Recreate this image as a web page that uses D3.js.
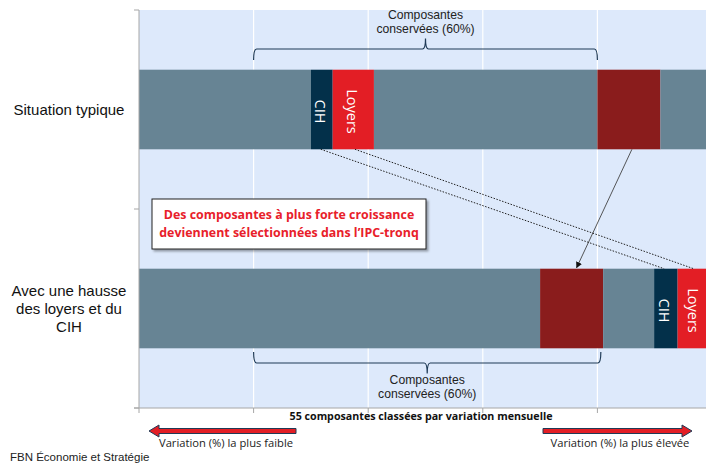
<!DOCTYPE html>
<html>
<head>
<meta charset="utf-8">
<script src="https://cdn.jsdelivr.net/npm/d3@7"></script>
<style>
  body { margin: 0; background: #fff; }
  svg { display: block; font-family: "Liberation Sans", Arial, sans-serif; }
</style>
</head>
<body>
<div id="chart"></div>
<script>
// Data: categories and segment widths (share of the 55 ranked components, in %)
const categories = ["Situation typique", "Avec une hausse des loyers et du CIH"];
const categoryLines = [["Situation typique"], ["Avec une hausse", "des loyers et du", "CIH"]];
const segmentKinds = [
  ["autre", "cih", "loyers", "autre", "comp", "autre"],
  ["autre", "comp", "autre", "cih", "loyers"]
];
const segmentValues = [
  [30, 3.8, 7.2, 39, 11, 9],
  [70, 11, 8.9, 4.1, 6]
];
const xTicks = [0, 20, 40, 60, 80, 100];
const keptRange = [[20, 80], [20, 80.6]];
const keptLabel = ["Composantes", "conservées (60%)"];
const axisTitle = "55 composantes classées par variation mensuelle";
const noteLines = ["Des composantes à plus forte croissance", "deviennent sélectionnées dans l’IPC-tronq"];
const lowLabel = "Variation (%) la plus faible";
const highLabel = "Variation (%) la plus élevée";
const source = "FBN Économie et Stratégie";

const colors = { autre: "#678494", cih: "#03304a", loyers: "#e31e25", comp: "#8a1c1c" };
const segLabels = { cih: "CIH", loyers: "Loyers" };

const W = 706, H = 464;
const svg = d3.select("#chart").append("svg").attr("width", W).attr("height", H);

const x = d3.scaleLinear().domain([0, 100]).range([139, 712]);
const y = d3.scaleBand().domain(categories).range([10, 408])
  .paddingInner(0.6).paddingOuter(0.3);

// plot background + grid
svg.append("rect").attr("x", x(0)).attr("y", 10).attr("width", W - x(0)).attr("height", 398)
  .attr("fill", "#dde9fb");
svg.selectAll(".grid").data(xTicks.slice(1)).enter().append("line")
  .attr("x1", d => x(d)).attr("x2", d => x(d)).attr("y1", 10).attr("y2", 408)
  .attr("stroke", "#fff").attr("stroke-width", 1.2);

// stacked bars
const stacks = categories.map((c, i) => {
  let acc = 0;
  return segmentValues[i].map((v, j) => {
    const s = { cat: c, kind: segmentKinds[i][j], x0: acc, x1: acc + v };
    acc += v;
    return s;
  });
});
const segs = stacks.flat();
svg.selectAll(".seg").data(segs).enter().append("rect")
  .attr("x", d => x(d.x0)).attr("width", d => x(d.x1) - x(d.x0))
  .attr("y", d => y(d.cat)).attr("height", y.bandwidth())
  .attr("fill", d => colors[d.kind]);

// rotated labels inside CIH / Loyers
svg.selectAll(".segLabel").data(segs.filter(d => segLabels[d.kind])).enter().append("text")
  .attr("transform", d => `translate(${(x(d.x0) + x(d.x1)) / 2 - 1},${y(d.cat) + y.bandwidth() / 2 + 2}) rotate(90)`)
  .attr("text-anchor", "middle").attr("dominant-baseline", "central")
  .attr("fill", "#fff").style("font-family", "'Open Sans', sans-serif").style("font-size", "14.5px")
  .text(d => segLabels[d.kind]);

// axes (Excel style: ticks on band boundaries)
const step = y.step();
const yBounds = [10, y(categories[1]) - step * y.paddingInner() / 2, 408];
svg.append("line").attr("x1", x(0)).attr("x2", x(0)).attr("y1", 10).attr("y2", 408)
  .attr("stroke", "#a6a6a6");
svg.selectAll(".ytick").data(yBounds).enter().append("line")
  .attr("x1", x(0) - 5).attr("x2", x(0)).attr("y1", d => d).attr("y2", d => d)
  .attr("stroke", "#a6a6a6");
svg.append("line").attr("x1", x(0) - 5).attr("x2", W).attr("y1", 408).attr("y2", 408)
  .attr("stroke", "#a6a6a6");
svg.selectAll(".xtick").data(xTicks.slice(0, 5)).enter().append("line")
  .attr("x1", d => x(d)).attr("x2", d => x(d)).attr("y1", 408).attr("y2", 413)
  .attr("stroke", "#a6a6a6");

// category labels
categories.forEach((c, i) => {
  const lines = categoryLines[i];
  const cy = y(c) + y.bandwidth() / 2;
  const t = svg.append("text").attr("x", 69).attr("text-anchor", "middle")
    .style("font-size", "15px").attr("fill", "#111");
  lines.forEach((l, k) => {
    t.append("tspan").attr("x", 69)
      .attr("y", cy + (k - (lines.length - 1) / 2) * 18 + 5).text(l);
  });
});

// brackets
function bracket(r, yb, dir, labelY) {
  const a = x(r[0]), b = x(r[1]), m = x((r[0] + r[1]) / 2);
  const e = 11 * dir, c = 3;
  const p = `M${a},${yb + e} Q${a},${yb} ${a + c},${yb} L${m - c},${yb} Q${m},${yb} ${m},${yb - c * dir * 3.5}` +
            ` Q${m},${yb} ${m + c},${yb} L${b - c},${yb} Q${b},${yb} ${b},${yb + e}`;
  svg.append("path").attr("d", p).attr("fill", "none").attr("stroke", "#1f3a56").attr("stroke-width", 1.2);
  keptLabel.forEach((l, k) => {
    svg.append("text").attr("x", m).attr("y", labelY + k * 14).attr("text-anchor", "middle")
      .style("font-size", "12.2px").attr("fill", "#222").text(l);
  });
}
bracket(keptRange[0], 49, 1, 19);
bracket(keptRange[1], 363, -1, 384);

// arrow markers
const defs = svg.append("defs");
defs.append("marker").attr("id", "tri").attr("viewBox", "0 0 10 10").attr("refX", 9).attr("refY", 5)
  .attr("markerWidth", 7).attr("markerHeight", 7).attr("orient", "auto")
  .append("path").attr("d", "M0,0 L10,5 L0,10 Z").attr("fill", "#111");
defs.append("filter").attr("id", "shadow").append("feDropShadow")
  .attr("dx", 2).attr("dy", 2).attr("stdDeviation", 1).attr("flood-color", "#000").attr("flood-opacity", 0.35);

// connectors between bars
const topStack = stacks[0], botStack = stacks[1];
const topB = y(categories[0]) + y.bandwidth(), botT = y(categories[1]);
const find = (s, k) => s.find(d => d.kind === k);
const mid = d => x((d.x0 + d.x1) / 2);
svg.append("line")
  .attr("x1", mid(find(topStack, "comp")) + 3).attr("y1", topB)
  .attr("x2", mid(find(botStack, "comp")) + 5).attr("y2", botT - 1)
  .attr("stroke", "#444").attr("stroke-width", 0.9).attr("marker-end", "url(#tri)");
["cih", "loyers"].forEach(k => {
  const a = find(topStack, k), b = find(botStack, k);
  svg.append("line")
    .attr("x1", k === "cih" ? mid(a) - 1 : x(a.x1) - 19).attr("y1", topB)
    .attr("x2", k === "cih" ? x(b.x0) + 10 : x(b.x0) + 16).attr("y2", botT)
    .attr("stroke", "#222").attr("stroke-width", 1).attr("stroke-dasharray", "1.5,1.5");
});

// note box
const note = svg.append("g");
note.append("rect").attr("x", 152).attr("y", 199).attr("width", 274).attr("height", 50)
  .attr("fill", "#fff").attr("stroke", "#222").attr("stroke-width", 1).attr("filter", "url(#shadow)");
noteLines.forEach((l, k) => {
  note.append("text").attr("x", 289).attr("y", 218.5 + k * 18).attr("text-anchor", "middle")
    .style("font-family", "'Open Sans', sans-serif").style("font-weight", "bold").style("font-size", "12.4px")
    .attr("fill", "#e8202a").text(l);
});

// axis title
svg.append("text").attr("x", 421).attr("y", 420).attr("text-anchor", "middle")
  .style("font-family", "'Open Sans', sans-serif").style("font-weight", "bold").style("font-size", "10.7px")
  .attr("fill", "#111").text(axisTitle);

// direction arrows
function bigArrow(x1, x2, yc) {
  const d = x2 > x1 ? 1 : -1, head = 10;
  const p = `M${x1},${yc - 2.5} L${x2 - d * head},${yc - 2.5} L${x2 - d * head},${yc - 6} L${x2},${yc}` +
            ` L${x2 - d * head},${yc + 6} L${x2 - d * head},${yc + 2.5} L${x1},${yc + 2.5} Z`;
  svg.append("path").attr("d", p).attr("fill", "#e31e25").attr("stroke", "#1f3a56").attr("stroke-width", 1);
}
bigArrow(296, 149, 431);
bigArrow(543, 692, 431);
svg.append("text").attr("x", 226).attr("y", 447).attr("text-anchor", "middle")
  .style("font-family", "'Open Sans', sans-serif").style("font-size", "11.2px").attr("fill", "#222").text(lowLabel);
svg.append("text").attr("x", 620).attr("y", 447).attr("text-anchor", "middle")
  .style("font-family", "'Open Sans', sans-serif").style("font-size", "11.2px").attr("fill", "#222").text(highLabel);

// source
svg.append("text").attr("x", 10).attr("y", 461).style("font-size", "11.5px").attr("fill", "#222").text(source);
</script>
</body>
</html>
